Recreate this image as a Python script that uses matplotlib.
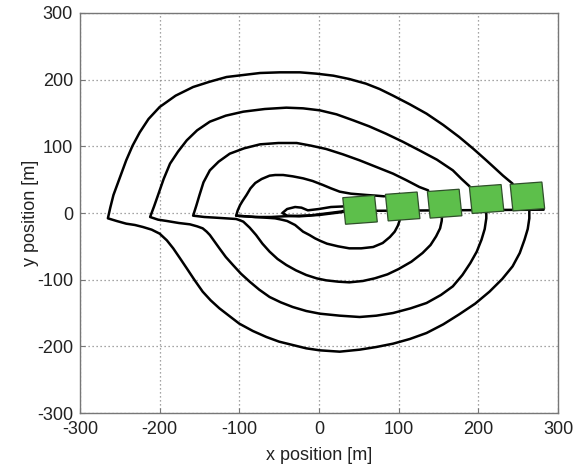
import matplotlib
matplotlib.use("Agg")
import matplotlib.pyplot as plt
from matplotlib.patches import Rectangle

plt.rcParams['font.family'] = ['Liberation Sans', 'DejaVu Sans']
plt.rcParams['axes.unicode_minus'] = False

# ---- data (metres) ----
# outermost loop (vehicle 5): top arc right->left, cusp, bottom arc left->right
x5 = [243, 237, 231, 221, 210, 194, 176, 156, 135, 114, 93, 76, 59, 38, 18, -3, -24, -49, -74, -95,
      -116, -137, -158, -180, -200, -214, -225, -234, -242, -250, -258, -262, -265,
      -254, -242, -231, -221, -210, -200, -191, -183, -175, -166, -156, -146, -136, -125, -112, -100,
      -83, -66, -50, -33, -16, 1, 26, 51, 72, 93, 114, 135, 156, 176, 196, 214, 230, 243, 252, 258,
      262, 264, 264]
y5 = [44, 50, 56, 67, 79, 96, 114, 132, 149, 163, 176, 186, 194, 201, 206, 209, 211, 211, 210, 207,
      204, 197, 189, 176, 159, 141, 121, 101, 79, 53, 27, 8, -8,
      -12, -16, -18, -21, -25, -31, -41, -53, -67, -83, -101, -118, -131, -143, -155, -166,
      -177, -186, -193, -198, -203, -206, -208, -205, -201, -196, -189, -180, -167, -152, -136, -118, -99, -80, -60, -40,
      -24, -8, 8]
# vehicle 4
x4 = [189, 179, 168, 148, 126, 105, 84, 63, 43, 22, 1, -20, -41, -68, -95, -117, -137, -153, -166,
      -177, -187, -195, -202, -207, -212,
      -202, -191, -176, -162, -153, -146, -141, -137, -131, -125, -117, -108, -98, -87, -75, -62, -48,
      -33, -16, 1, 26, 51, 72, 93, 115, 135, 153, 168, 180, 190, 198, 204, 208, 210, 210]
y4 = [40, 51, 64, 80, 94, 107, 119, 130, 139, 148, 154, 157, 158, 156, 152, 146, 137, 124, 109,
      92, 74, 51, 27, 10, -6,
      -10, -12, -15, -17, -20, -23, -28, -33, -43, -53, -66, -78, -91, -103, -115, -126, -134,
      -141, -147, -151, -154, -156, -154, -150, -143, -135, -123, -110, -93, -75, -58, -40, -24, -8, 8]
# vehicle 3
x3 = [137, 126, 110, 93, 72, 51, 30, 9, -10, -28, -51, -74, -94, -112, -126, -137, -145, -150, -154, -158,
      -144, -130, -117, -104, -99, -95, -87, -79, -71, -62, -52, -41, -29, -16, -3, 9, 24, 38, 55, 70,
      86, 100, 116, 130, 140, 147, 152, 154, 155]
y3 = [34, 39, 49, 59, 69, 79, 88, 96, 101, 105, 105, 103, 97, 89, 77, 64, 46, 27, 11, -4,
      -6, -7, -8, -9, -11, -13, -22, -33, -46, -58, -69, -78, -86, -93, -98, -101, -103, -104, -102, -98,
      -92, -84, -73, -60, -48, -35, -23, -12, 5]
# vehicle 2
x2 = [82, 72, 60, 50, 40, 26, 15, 5, -8, -20, -33, -45, -55, -62, -72, -80, -86, -91, -96, -99, -102, -104,
      -92, -80, -67, -55, -47, -40, -35, -30, -25, -20, -12, -5, 2, 10, 24, 38, 53, 68, 80, 89, 95, 99,
      101, 102, 103]
y2 = [25, 26, 27, 28, 29, 32, 37, 42, 48, 52, 55, 57, 57, 56, 51, 45, 37, 27, 18, 12, 4, -4,
      -5, -6, -7, -8, -10, -12, -15, -18, -23, -28, -33, -38, -42, -46, -50, -53, -53, -51, -45, -36, -28, -19,
      -12, -5, 5]
# vehicle 1 (small loop near the origin)
x1 = [33, 15, 0, -14, -22, -30, -40, -46, -40, -25, -12, 0, 20, 33]
y1 = [10, 9, 6, 4, 8, 9, 6, 0, -4, -5, -4, -2, 1, 3]
# straight run through the centre and line under the formation
xc = [-104, -80, -60, -45, -20, 0, 20, 33]
yc = [-4, -6, -6, -5, -4, -3, 0, 2]
xf = [30, 282]
yf = [3, 5]

# vehicle (square) positions and heading
sq_x = [51.5, 105, 157.7, 210.4, 261.6]
sq_y = [4.8, 9.8, 14, 21, 24.8]
sq_side = 40
sq_angle = 5

xticks = [-300, -200, -100, 0, 100, 200, 300]
yticks = [-300, -200, -100, 0, 100, 200, 300]

fig = plt.figure(figsize=(5.8, 4.73), dpi=100)
ax = fig.add_axes([80/580, 1-413/473, 478/580, 400/473])

lw = 1.8
for xs, ys in [(x5, y5), (x4, y4), (x3, y3), (x2, y2), (x1, y1), (xc, yc), (xf, yf)]:
    ax.plot(xs, ys, color='black', lw=lw, solid_joinstyle='round', solid_capstyle='round', zorder=3)

for cx, cy in zip(sq_x, sq_y):
    r = Rectangle((cx - sq_side/2, cy - sq_side/2), sq_side, sq_side, angle=sq_angle,
                  rotation_point='center', facecolor='#5dbf4b', edgecolor='#2f4f2a',
                  lw=0.9, zorder=4)
    ax.add_patch(r)

ax.set_xlim(-300, 300)
ax.set_ylim(-300, 300)
ax.set_xticks(xticks)
ax.set_yticks(yticks)
ax.grid(True, color='#888888', linestyle=(0, (1, 2.2)), lw=0.9)
ax.set_axisbelow(True)
for s in ax.spines.values():
    s.set_color('#777777')
    s.set_linewidth(1.0)
ax.tick_params(direction='in', length=3.5, color='#777777', labelsize=13, pad=6,
               labelcolor='#222222')
ax.tick_params(axis='y', pad=5)
ax.set_xlabel('x position [m]', fontsize=13, color='#222222')
ax.set_ylabel('y position [m]', fontsize=13, color='#222222')
ax.xaxis.set_label_coords(0.5, -0.085)
ax.yaxis.set_label_coords(-0.085, 0.5)

fig.savefig('out.png', dpi=100)
